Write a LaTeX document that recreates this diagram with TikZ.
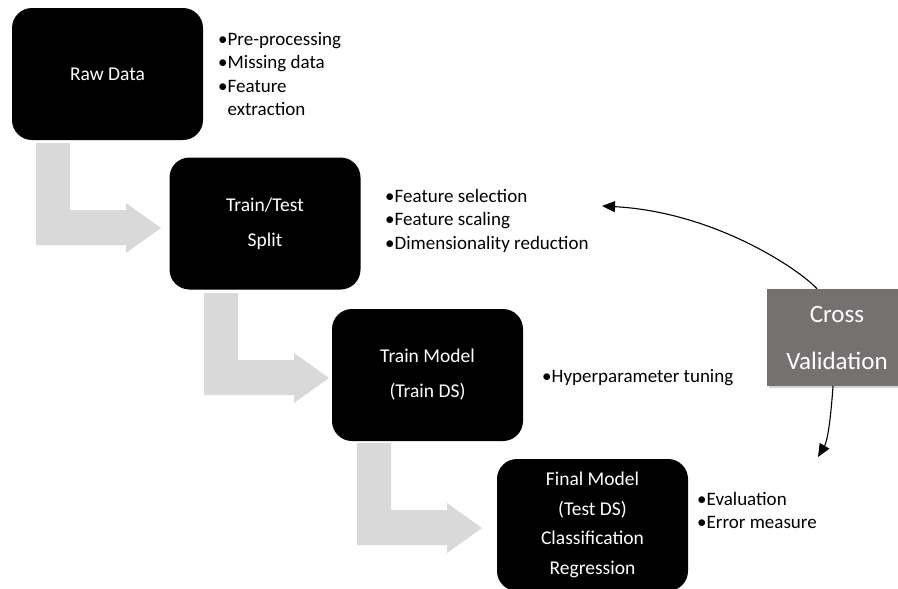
\documentclass[tikz,border=0pt]{standalone}
\usepackage{fontspec}
\setmainfont{Carlito}
\usetikzlibrary{arrows.meta,shadows}

\definecolor{flowgray}{HTML}{D9D9D9}
\definecolor{cvgray}{HTML}{767171}

\tikzset{
	stage/.style={fill=black, text=white, rounded corners=20pt, minimum width=191pt, minimum height=132pt, align=center, font=\fontsize{19.5}{35}\selectfont},
	notes/.style={anchor=north west, inner sep=0pt, align=left, font=\fontsize{19}{23.5}\selectfont},
	cvbox/.style={fill=cvgray, text=white, minimum width=140pt, minimum height=97pt, align=center, font=\fontsize{25}{47}\selectfont, drop shadow={opacity=0.35, shadow xshift=2pt, shadow yshift=-2pt}},
	cvarrow/.style={-{Triangle[length=13pt,width=11pt]}, line width=1.1pt},
}

\begin{document}
\begin{tikzpicture}[x=1pt, y=-1pt]
			\useasboundingbox (0,0) rectangle (898,589);
			% gray bent arrows
			\foreach \x/\y in {36/143, 204/293, 357/443}
				\fill[flowgray] (\x,\y) -- ++(34,0) -- ++(0,67) -- ++(56,0) -- ++(0,-7) -- ++(35,25) -- ++(-35,25) -- ++(0,-8) -- ++(-90,0) -- cycle;
			% stages
			\node[stage] (raw) at (107.5,74) {Raw Data};
			\node[stage] (split) at (265,223.5) {Train/Test\\Split};
			\node[stage] (train) at (427.5,375) {Train Model\\(Train DS)};
			\node[stage, font=\fontsize{19.5}{29.5}\selectfont] (final) at (592.5,525) {Final Model\\(Test DS)\\Classification\\Regression};
			% notes
			\node[notes] (rawnotes) at (218,28.5) {\strut•Pre-processing\\•Missing data\\•Feature\\\phantom{•}extraction};
			\node[notes] (splitnotes) at (385,185.5) {\strut•Feature selection\\•Feature scaling\\•Dimensionality reduction};
			\node[notes] (trainnotes) at (542,365.5) {\strut•Hyperparameter tuning};
			\node[notes] (finalnotes) at (697,488.5) {\strut•Evaluation\\•Error measure};
			% cross validation
			\node[cvbox] (cv) at (837,337.5) {Cross\\Validation};
			\coordinate (fsel) at (602,206);
			\coordinate (fin) at (818,457);
			\draw[cvarrow] ([xshift=-20pt]cv.north) .. controls (800,270) and (715,212) .. (fsel);
			\draw[cvarrow] ([xshift=-4pt]cv.south) .. controls (831,415) and (828,440) .. (fin);
		\end{tikzpicture}
\end{document}
